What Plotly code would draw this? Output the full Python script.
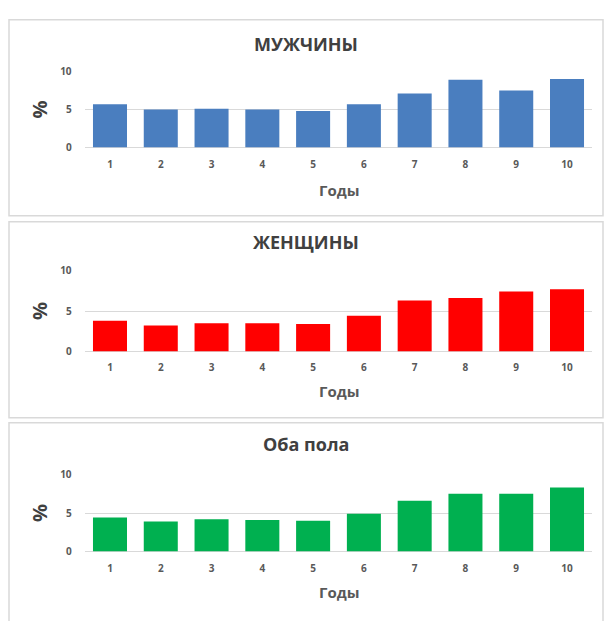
import plotly.graph_objects as go

# Годы наблюдения
years = [1, 2, 3, 4, 5, 6, 7, 8, 9, 10]

# Доля, %
men = [5.7, 5.0, 5.1, 5.0, 4.8, 5.7, 7.1, 8.9, 7.5, 9.0]
women = [3.8, 3.2, 3.5, 3.5, 3.4, 4.4, 6.3, 6.6, 7.4, 7.7]
both = [4.4, 3.9, 4.2, 4.1, 4.0, 4.9, 6.6, 7.5, 7.5, 8.3]

titles = ["МУЖЧИНЫ", "ЖЕНЩИНЫ", "Оба пола"]
colors = ["#4a7ebf", "#ff0000", "#00b050"]
series = [men, women, both]
y_ticks = [0, 5, 10]
x_title = "Годы"
y_title = "%"

W, H = 605, 621


def px(x):
    return x / W


def py(y):
    return 1 - y / H


# Panel geometry in pixels: (box top, box bottom, zero line, ten line, title y, x-title y)
panels = [
    (12, 213, 143, 65, 37, 186),
    (219, 420, 352, 269, 240, 392),
    (425, 640, 557, 478, 447, 598),
]
plot_left, plot_right = 84.6, 592.4
box_left, box_right = 9, 603

fig = go.Figure()
shapes = []
annotations = []
font_family = "Open Sans, Liberation Sans, sans-serif"

for i, (vals, color, title, geo) in enumerate(zip(series, colors, titles, panels)):
    top, bottom, y0, y10, ty, xty = geo
    n = "" if i == 0 else str(i + 1)
    fig.add_trace(go.Bar(
        x=years, y=vals, marker=dict(color=color, line=dict(width=0)),
        xaxis="x" + n, yaxis="y" + n, showlegend=False,
    ))
    fig.update_layout(**{
        "xaxis" + n: dict(
            domain=[px(plot_left), px(plot_right)], anchor="y" + n,
            range=[0.5, 10.5], tickvals=years, ticktext=[str(v) for v in years],
            showgrid=False, zeroline=False, showline=False, ticks="",
            ticklabelstandoff=9,
            tickfont=dict(family=font_family, size=10, color="#595959", weight="bold"),
        ),
        "yaxis" + n: dict(
            domain=[py(y0), py(y10)], anchor="x" + n,
            range=[0, 10], tickvals=y_ticks,
            showgrid=True, gridcolor="#d9d9d9", gridwidth=1,
            zeroline=True, zerolinecolor="#d9d9d9", zerolinewidth=1,
            showline=False, ticks="", ticklabelstandoff=12,
            tickfont=dict(family=font_family, size=10, color="#595959", weight="bold"),
        ),
    })
    shapes.append(dict(
        type="rect", xref="paper", yref="paper",
        x0=px(box_left), x1=px(box_right), y0=py(bottom), y1=py(top),
        line=dict(color="#d9d9d9", width=1.5), fillcolor="white", layer="below",
    ))
    annotations.append(dict(
        text=title, x=px((box_left + box_right) / 2), y=py(ty),
        xref="paper", yref="paper", showarrow=False, xanchor="center", yanchor="middle",
        font=dict(family=font_family, size=18, color="#404040", weight="bold"),
    ))
    annotations.append(dict(
        text=x_title, x=px((plot_left + plot_right) / 2), y=py(xty),
        xref="paper", yref="paper", showarrow=False, xanchor="center", yanchor="middle",
        font=dict(family=font_family, size=15, color="#595959", weight="bold"),
    ))
    annotations.append(dict(
        text=y_title, x=px(39), y=py((y0 + y10) / 2),
        xref="paper", yref="paper", showarrow=False, xanchor="center", yanchor="middle",
        textangle=-90,
        font=dict(family=font_family, size=20, color="#404040", weight="bold"),
    ))

fig.update_layout(
    width=W, height=H,
    margin=dict(l=0, r=0, t=0, b=0),
    paper_bgcolor="white", plot_bgcolor="rgba(0,0,0,0)",
    bargap=0.33,
    shapes=shapes, annotations=annotations,
)

fig.write_html("out.html")
